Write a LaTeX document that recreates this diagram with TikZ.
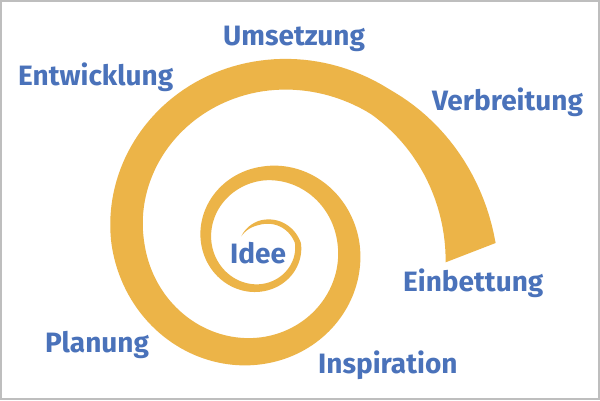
\documentclass[tikz,border=0pt]{standalone}
\usepackage{fontspec}
\setmainfont{Fira Sans}
\definecolor{spiralc}{RGB}{236,180,72}
\definecolor{lblc}{RGB}{74,114,186}
\definecolor{framec}{RGB}{190,190,190}
\begin{document}
\begin{tikzpicture}[x=1pt,y=-1pt,
  lab/.style={anchor=base west, inner sep=0pt, text=lblc, font=\bfseries\fontsize{28}{28}\selectfont},
  declare function={
    rr(\q)=35.9*exp(0.0024347*(\q-360)) - 8*sin(min(\q,360)-180);
    ww(\q)=0.064516*max(\q-198,0) - 0.044516*max(\q-260,0) - 0.003333*max(\q-360,0)
          + 0.016666*max(\q-450,0) + 0.005556*max(\q-540,0) + 0.05*max(\q-630,0)
          - 0.033333*max(\q-720,0) + 0.011111*max(\q-810,0) - 0.088889*max(\q-900,0)
          + 0.022222*max(\q-990,0) + 0.396226*max(\q-1030,0);
  }]
\useasboundingbox (0,0) rectangle (600,400);
\fill[white] (0,0) rectangle (600,400);
\draw[framec, line width=2] (1,1) rectangle (599,399);
\fill[spiralc]
  plot[domain=198:1080, samples=400, variable=\t]
    ({262+(rr(\t)+ww(\t)/2)*cos(\t)}, {243+(rr(\t)+ww(\t)/2)*sin(\t)})
  -- plot[domain=1086:198, samples=400, variable=\t]
    ({262+(rr(\t)-ww(\t)/2)*cos(\t)}, {243+(rr(\t)-ww(\t)/2)*sin(\t)})
  -- cycle;
\node[lab] (umsetzung) at (223,45) {Umsetzung};
\node[lab] (entwicklung) at (18,85) {Entwicklung};
\node[lab] (verbreitung) at (432,110) {Verbreitung};
\node[lab] (einbettung) at (403,291) {Einbettung};
\node[lab] (inspiration) at (318,373) {Inspiration};
\node[lab] (planung) at (45,352) {Planung};
\node[lab] (idee) at (230,263) {Idee};
\end{tikzpicture}
\end{document}
